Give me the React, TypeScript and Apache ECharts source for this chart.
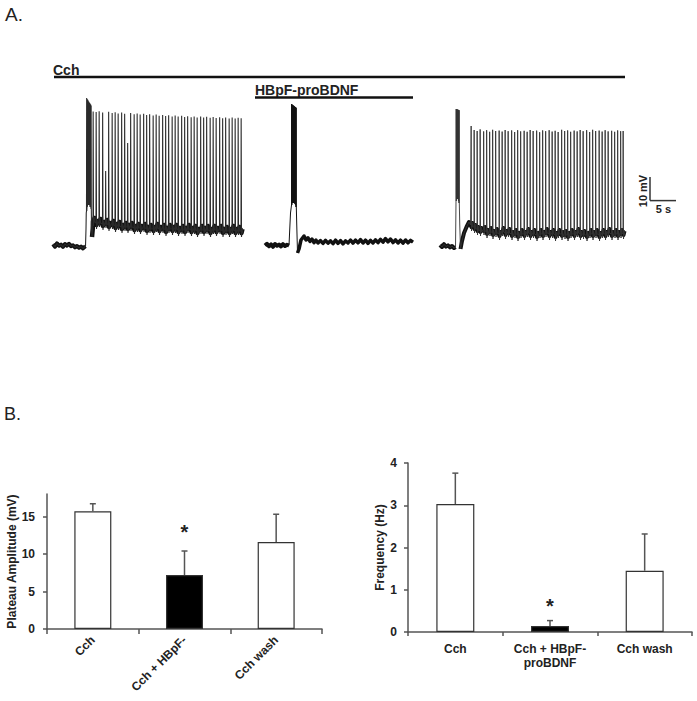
import React, { useEffect, useRef } from "react";
import * as echarts from "echarts";

// ---------- Panel B data ----------
const plateauCategories = ["Cch", "Cch + HBpF-", "Cch wash"];
const freqCategories = ["Cch", "Cch + HBpF-\nproBDNF", "Cch wash"];
const plateauMean = [15.7, 7.2, 11.6];
const plateauUpper = [16.7, 10.4, 15.3];
const freqMean = [3.03, 0.14, 1.45];
const freqUpper = [3.76, 0.27, 2.32];
const significant = [false, true, false];
const plateauTicks = [0, 5, 10, 15];
const freqTicks = [0, 1, 2, 3, 4];

// ---------- Panel A data (time s, membrane potential mV) ----------
const cchBar = [[0.2, 24], [114.4, 24]];
const hbpfBar = [[40.4, 13.8], [72, 13.8]];
const scaleV = [[119.4, -26], [119.4, -37.8]];
const scaleH = [[119.4, -37.8], [124.6, -37.8]];

const trace1Base = [[0, -59.6], [0.4, -60.8], [0.8, -59.2], [1.2, -60.4], [1.6, -59.8], [2.0, -60.9], [2.4, -59.5], [2.8, -60.3], [3.2, -59.4], [3.6, -60.6], [4.0, -60.2], [4.4, -61.2], [4.8, -60.5], [5.2, -61.4], [5.6, -60.8], [6.0, -61.7], [6.3, -61.0], [6.5, -60.6]];
const trace1Rise = [[6.6, -52], [6.65, -44]];
const trace1Burst = [[6.7, 13.5, -43], [6.8, 13.0, -41], [6.9, 12.6, -40], [7.0, 12.2, -40], [7.1, 11.8, -40], [7.2, 11.4, -40], [7.3, 11.0, -40], [7.4, 10.6, -41], [7.5, 10.2, -41], [7.6, 9.8, -42]];
const trace1Post = [[7.7, -50], [7.8, -56], [7.95, -52], [8.0, -48]];
const trace1Spikes = [[8.0, 6.8, -47.5], [8.6, 6.5, -49], [9.2, 6.9, -48], [9.9, 6.3, -49.5], [10.5, -23, -48.5], [11.1, 6.6, -50], [11.8, 6.0, -49], [12.4, 6.4, -50.5], [13.0, 5.8, -49.5], [13.7, 6.2, -51], [14.3, 5.6, -50], [14.9, -9, -51], [15.5, 6.0, -50], [16.2, 5.4, -51.5], [16.8, 5.8, -50.5], [17.4, 5.2, -51.5], [18.1, 5.6, -50.5], [18.7, 5.0, -52], [19.3, 5.4, -51], [20.0, 4.8, -52], [20.6, 5.2, -50.5], [21.2, 4.6, -52], [21.9, 5.0, -51], [22.5, 4.5, -52.5], [23.1, 4.9, -51], [23.8, 4.3, -52], [24.4, 4.7, -51], [25.0, 4.2, -52.5], [25.7, 4.6, -51.5], [26.3, 4.0, -52.5], [26.9, 4.4, -51], [27.6, 3.9, -52.5], [28.2, 4.3, -51.5], [28.8, 3.8, -53], [29.5, 4.2, -51.5], [30.1, 3.7, -52.5], [30.7, 4.1, -51.5], [31.4, 3.6, -53], [32.0, 4.0, -51.5], [32.6, 3.5, -52.5], [33.3, 3.9, -51.5], [33.9, 3.4, -53], [34.5, 3.8, -52], [35.2, 3.3, -53], [35.8, 3.7, -51.5], [36.4, 3.2, -53], [37.0, 3.6, -52], [37.6, 3.4, -53]];

const trace2Base = [[42.4, -60.3], [42.8, -59.4], [43.2, -60.6], [43.6, -59.7], [44.0, -60.9], [44.4, -59.5], [44.8, -60.4], [45.2, -59.8], [45.6, -60.7], [46.0, -59.6], [46.4, -60.5], [46.8, -59.9], [47.2, -60.2]];
const trace2Rise = [[47.35, -52], [47.5, -44]];
const trace2Burst = [[47.7, 10.5, -40], [47.8, 10.2, -39], [47.9, 10.0, -39], [48.0, 9.8, -39], [48.1, 9.6, -39], [48.2, 9.4, -39], [48.3, 9.2, -39], [48.4, 9.0, -39.5], [48.5, 8.8, -40], [48.6, 8.6, -41]];
const trace2Post = [[48.75, -50], [48.9, -64], [49.2, -62], [49.6, -57.5], [50.2, -55.5], [50.6, -57.5], [51.0, -56.4], [51.4, -58.2], [51.8, -57.0], [52.2, -58.8], [52.6, -57.6], [53.0, -59.0], [53.5, -57.8], [54.0, -59.2], [54.5, -57.7], [55.0, -59.1], [55.5, -57.9], [56.0, -59.3], [56.5, -57.6], [57.0, -59.2], [57.5, -57.8], [58.0, -59.4], [58.5, -57.9], [59.0, -59.0], [59.5, -57.5], [60.0, -59.1], [60.5, -57.6], [61.0, -58.9], [61.5, -57.3], [62.0, -59.0], [62.5, -57.6], [63.0, -59.2], [63.5, -57.7], [64.0, -59.0], [64.5, -57.4], [65.0, -58.8], [65.5, -57.2], [66.0, -58.6], [66.5, -56.8], [67.0, -58.4], [67.5, -57.0], [68.0, -58.8], [68.5, -57.4], [69.0, -59.0], [69.5, -57.6], [70.0, -59.1], [70.5, -57.5], [71.0, -58.9], [71.5, -57.7], [72.0, -58.6]];

const trace3Base = [[77.4, -60.0], [77.8, -61.0], [78.2, -59.6], [78.6, -60.8], [79.0, -60.2], [79.4, -61.2], [79.8, -60.5], [80.2, -61.5], [80.5, -61.0]];
const trace3Rise = [[80.55, -50]];
const trace3Burst = [[80.6, 8.0, -38], [80.7, 7.9, -37], [80.8, 7.8, -37], [80.9, 7.7, -37], [81.0, 7.6, -37], [81.1, 7.5, -38], [81.2, 7.4, -39]];
const trace3Post = [[81.35, -50], [81.5, -62], [81.8, -58], [82.2, -54], [82.7, -51], [83.2, -48.5], [83.5, -50]];
const trace3Spikes = [[83.6, -0.5, -50], [84.2, -2.5, -51], [84.8, -3.0, -52], [85.4, -2.2, -52.5], [86.1, -3.2, -52], [86.7, -2.6, -53.5], [87.3, -3.4, -52.5], [87.9, -2.4, -54], [88.5, -3.0, -53], [89.2, -2.8, -54.5], [89.8, -3.3, -52.5], [90.4, -2.5, -54], [91.0, -3.1, -53], [91.7, -2.7, -54.5], [92.3, -3.5, -53.5], [92.9, -2.6, -55], [93.5, -3.2, -53.5], [94.2, -2.9, -54.5], [94.8, -3.4, -53], [95.4, -2.5, -54.5], [96.0, -3.0, -53.5], [96.7, -2.8, -55], [97.3, -3.6, -53.5], [97.9, -2.7, -54.5], [98.5, -3.1, -53], [99.2, -2.6, -54.5], [99.8, -3.3, -53.5], [100.4, -2.9, -55], [101.0, -3.5, -53.5], [101.7, -2.4, -54.5], [102.3, -3.0, -54], [102.9, -2.7, -55], [103.5, -3.4, -53.5], [104.2, -2.8, -54.5], [104.8, -3.2, -53], [105.4, -2.5, -54.5], [106.0, -3.1, -54], [106.7, -2.6, -55], [107.3, -3.5, -53.5], [107.9, -2.4, -54.5], [108.5, -3.0, -53.5], [109.2, -2.8, -55], [109.8, -3.3, -53.5], [110.4, -2.6, -54.5], [111.0, -3.2, -53], [111.7, -2.9, -54.5], [112.3, -3.4, -53.5], [112.9, -2.7, -54.5], [113.5, -3.1, -53.5], [114.0, -3.0, -54]];

const FONT = '"Liberation Sans", Arial, sans-serif';
const INK = "#222";
const AXIS = "#555";

const burstPts = (b: number[][]) =>
  b.flatMap(([t, p, base]) => [[t, base], [t + 0.03, p], [t + 0.06, base]]);
const spikePts = (s: number[][]) =>
  s.flatMap(([t, p, tr]) => [[t, tr], [t + 0.03, p], [t + 0.1, tr - 3], [t + 0.22, tr + 1.5], [t + 0.32, tr - 1]]);
const troughPts = (s: number[][]) => s.flatMap(([t, , tr]) => [[t + 0.1, tr - 1], [t + 0.3, tr + 1]]);

function traceSeries(name: string, pts: number[][], width: number, color = "#111") {
  return {
    name,
    type: "line",
    xAxisIndex: 0,
    yAxisIndex: 0,
    data: pts,
    showSymbol: false,
    symbol: "none",
    clip: false,
    lineStyle: { width, color, join: width > 2 ? "round" : "miter" },
    z: width > 2 ? 2 : 3,
  };
}

function errorRender(starGap: number) {
  return (params: any, api: any) => {
    const i = api.value(0);
    const base = api.coord([i, api.value(1)]);
    const top = api.coord([i, api.value(2)]);
    const st = { stroke: AXIS, lineWidth: 1.5 };
    const children: any[] = [
      { type: "line", shape: { x1: base[0], y1: base[1], x2: top[0], y2: top[1] }, style: st },
      { type: "line", shape: { x1: top[0] - 3, y1: top[1], x2: top[0] + 3, y2: top[1] }, style: st },
    ];
    if (significant[i]) {
      children.push({
        type: "text",
        x: top[0],
        y: top[1] - starGap,
        style: { text: "*", fontSize: 20, fontWeight: "bold", fontFamily: FONT, fill: INK, align: "center", verticalAlign: "middle" },
      });
    }
    return { type: "group", children };
  };
}

const valueAxisCommon = (ticks: number[]) => ({
  type: "value",
  axisLine: { show: true, lineStyle: { color: AXIS, width: 1.5 } },
  axisTick: { show: true, length: 4, lineStyle: { color: AXIS, width: 1.5 }, customValues: ticks },
  axisLabel: { color: INK, fontSize: 12, fontWeight: "bold", fontFamily: FONT, customValues: ticks },
  splitLine: { show: false },
  nameLocation: "middle",
  nameRotate: 90,
  nameTextStyle: { color: INK, fontSize: 12, fontWeight: "bold", fontFamily: FONT },
});

export default function App() {
  const ref = useRef<HTMLDivElement>(null);
  useEffect(() => {
    document.body.style.margin = "0";
    if (!ref.current) return;
    const chart = echarts.init(ref.current, undefined, { renderer: "svg" });
    const option: any = {
      animation: false,
      backgroundColor: "#fff",
      grid: [
        { left: 53, top: 60, width: 625, height: 200 },
        { left: 47, top: 494, width: 275, height: 135 },
        { left: 408, top: 463, width: 284, height: 169 },
      ],
      xAxis: [
        { type: "value", gridIndex: 0, min: 0, max: 125, show: false },
        {
          type: "category",
          gridIndex: 1,
          data: plateauCategories,
          axisLine: { lineStyle: { color: AXIS, width: 1.5 } },
          axisTick: { show: true, alignWithLabel: false, length: 5, lineStyle: { color: AXIS, width: 1.5 } },
          axisLabel: { rotate: 45, margin: 9, color: INK, fontSize: 12, fontWeight: "bold", fontFamily: FONT, interval: 0 },
        },
        {
          type: "category",
          gridIndex: 2,
          data: freqCategories,
          axisLine: { lineStyle: { color: AXIS, width: 1.5 } },
          axisTick: { show: true, alignWithLabel: false, length: 4, lineStyle: { color: AXIS, width: 1.5 } },
          axisLabel: { margin: 10, color: INK, fontSize: 12, fontWeight: "bold", fontFamily: FONT, lineHeight: 14, interval: 0 },
        },
      ],
      yAxis: [
        { type: "value", gridIndex: 0, min: -67.5, max: 32.5, show: false },
        { ...valueAxisCommon(plateauTicks), gridIndex: 1, min: 0, max: 18, interval: 5, name: "Plateau Amplitude (mV)", nameGap: 29, axisLabel: { ...valueAxisCommon(plateauTicks).axisLabel, margin: 12 } },
        { ...valueAxisCommon(freqTicks), gridIndex: 2, min: 0, max: 4, interval: 1, name: "Frequency (Hz)", nameGap: 22, axisLabel: { ...valueAxisCommon(freqTicks).axisLabel, margin: 11 } },
      ],
      series: [
        traceSeries("Cch", cchBar, 2.5),
        traceSeries("HBpF-proBDNF", hbpfBar, 2.5),
        traceSeries("scaleV", scaleV, 1.5, "#333"),
        traceSeries("scaleH", scaleH, 1.5, "#333"),
        // trace 1
        traceSeries("t1base", trace1Base, 4),
        traceSeries("t1plateau", [...trace1Post.slice(1), ...troughPts(trace1Spikes)], 4.5),
        traceSeries("t1", [...trace1Base, ...trace1Rise, ...burstPts(trace1Burst), ...trace1Post, ...spikePts(trace1Spikes)], 1.1, "#2a2a2a"),
        // trace 2
        traceSeries("t2base", trace2Base, 4),
        traceSeries("t2plateau", trace2Post.slice(1), 3.5),
        traceSeries("t2", [...trace2Base, ...trace2Rise, ...burstPts(trace2Burst), ...trace2Post], 1, "#111"),
        // trace 3
        traceSeries("t3base", trace3Base, 4),
        traceSeries("t3plateau", [...trace3Post.slice(1), ...troughPts(trace3Spikes)], 4),
        traceSeries("t3", [...trace3Base, ...trace3Rise, ...burstPts(trace3Burst), ...trace3Post, ...spikePts(trace3Spikes)], 0.9, "#333"),
        // bars
        {
          type: "bar",
          xAxisIndex: 1,
          yAxisIndex: 1,
          barWidth: 37,
          data: plateauMean.map((v, i) => ({ value: v, itemStyle: { color: i === 1 ? "#000" : "#fff" } })),
          itemStyle: { borderColor: "#333", borderWidth: 1.2 },
        },
        {
          type: "custom",
          xAxisIndex: 1,
          yAxisIndex: 1,
          data: plateauMean.map((v, i) => [i, v, plateauUpper[i]]),
          renderItem: errorRender(19),
          z: 5,
        },
        {
          type: "bar",
          xAxisIndex: 2,
          yAxisIndex: 2,
          barWidth: 38,
          data: freqMean.map((v, i) => ({ value: v, itemStyle: { color: i === 1 ? "#000" : "#fff" } })),
          itemStyle: { borderColor: "#333", borderWidth: 1.2 },
        },
        {
          type: "custom",
          xAxisIndex: 2,
          yAxisIndex: 2,
          data: freqMean.map((v, i) => [i, v, freqUpper[i]]),
          renderItem: errorRender(15),
          z: 5,
        },
      ],
      graphic: [
        { type: "text", left: 5, top: 5, style: { text: "A.", fontSize: 19, fontFamily: FONT, fill: INK } },
        { type: "text", left: 4, top: 405, style: { text: "B.", fontSize: 18, fontFamily: FONT, fill: INK } },
        { type: "text", x: 53, y: 70, style: { text: "Cch", fontSize: 14, fontWeight: "bold", fontFamily: FONT, fill: INK, verticalAlign: "middle" } },
        { type: "text", x: 255, y: 90, style: { text: "HBpF-proBDNF", fontSize: 14, fontWeight: "bold", fontFamily: FONT, fill: INK, verticalAlign: "middle" } },
        { type: "text", x: 642.5, y: 191, rotation: Math.PI / 2, style: { text: "10 mV", fontSize: 11, fontWeight: "bold", fontFamily: FONT, fill: INK, align: "center", verticalAlign: "middle" } },
        { type: "text", x: 663.5, y: 208.5, style: { text: "5 s", fontSize: 11, fontWeight: "bold", fontFamily: FONT, fill: INK, align: "center", verticalAlign: "middle" } },
      ],
    };
    chart.setOption(option);
    return () => chart.dispose();
  }, []);
  return <div ref={ref} style={{ width: 697, height: 701 }} />;
}
